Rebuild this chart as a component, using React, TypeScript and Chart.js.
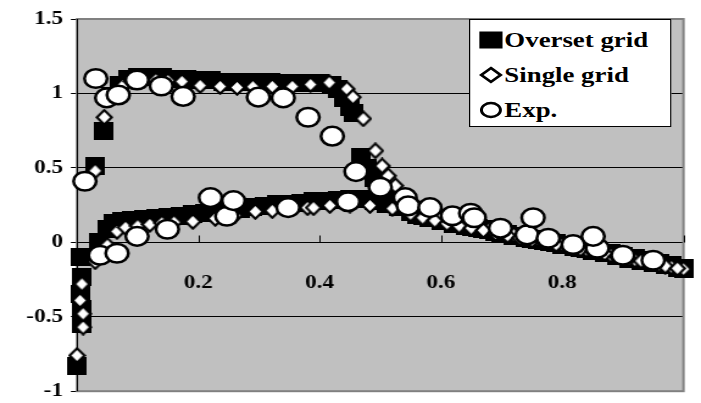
import React, { useEffect, useRef } from "react";
import { Chart, registerables } from "chart.js";

Chart.register(...registerables);

// The reference is horizontally stretched; the canvas is drawn narrower and scaled by CSS.
const PAGE_W = 701;
const PAGE_H = 403;
const CANVAS_W = 575;
const S = PAGE_W / CANVAS_W;

const xTickValues = [0, 0.2, 0.4, 0.6, 0.8, 1.0];
const yTickValues = [-1, -0.5, 0, 0.5, 1, 1.5];
const legendLabels = ["Overset grid", "Single grid", "Exp."];

const oversetUpperX = [0.03, 0.043, 0.055, 0.07, 0.085, 0.1, 0.12, 0.14, 0.16, 0.18, 0.2, 0.22, 0.24, 0.26, 0.28, 0.3, 0.32, 0.34, 0.36, 0.38, 0.4, 0.42, 0.43, 0.44, 0.45, 0.455, 0.468, 0.478, 0.49, 0.5, 0.51, 0.52, 0.535, 0.55, 0.57, 0.59, 0.61, 0.63, 0.65, 0.67, 0.69, 0.71, 0.73, 0.75, 0.77, 0.79, 0.81, 0.83, 0.85, 0.87, 0.89, 0.91, 0.93, 0.95, 0.97, 0.99, 1.0];
const oversetUpperY = [0.51, 0.75, 0.98, 1.06, 1.1, 1.11, 1.11, 1.11, 1.1, 1.1, 1.09, 1.09, 1.08, 1.08, 1.08, 1.075, 1.075, 1.07, 1.07, 1.07, 1.07, 1.06, 1.03, 0.97, 0.91, 0.87, 0.57, 0.5, 0.43, 0.38, 0.33, 0.3, 0.26, 0.22, 0.18, 0.16, 0.145, 0.125, 0.105, 0.09, 0.07, 0.055, 0.04, 0.025, 0.01, -0.005, -0.02, -0.04, -0.055, -0.075, -0.09, -0.11, -0.125, -0.14, -0.155, -0.17, -0.18];
const oversetLowerX = [0.0, 0.008, 0.008, 0.005, 0.007, 0.005, 0.035, 0.05, 0.06, 0.075, 0.09, 0.11, 0.13, 0.15, 0.17, 0.19, 0.21, 0.23, 0.25, 0.27, 0.29, 0.31, 0.33, 0.35, 0.37, 0.39, 0.41, 0.43, 0.45, 0.47, 0.49, 0.51, 0.53, 0.55, 0.56, 0.58, 0.6, 0.62, 0.64, 0.66, 0.68, 0.7, 0.72, 0.74, 0.76, 0.78, 0.8, 0.82, 0.84, 0.86, 0.88, 0.9, 0.92, 0.94, 0.96, 0.98, 1.0];
const oversetLowerY = [-0.83, -0.55, -0.45, -0.35, -0.23, -0.1, 0.0, 0.09, 0.13, 0.145, 0.15, 0.155, 0.165, 0.17, 0.18, 0.19, 0.2, 0.21, 0.215, 0.225, 0.235, 0.245, 0.255, 0.26, 0.265, 0.275, 0.28, 0.285, 0.29, 0.29, 0.28, 0.26, 0.235, 0.205, 0.185, 0.16, 0.14, 0.125, 0.11, 0.095, 0.08, 0.06, 0.045, 0.03, 0.015, 0.0, -0.015, -0.03, -0.045, -0.06, -0.075, -0.09, -0.105, -0.12, -0.14, -0.155, -0.17];

const singleUpperX = [0.03, 0.045, 0.06, 0.075, 0.09, 0.11, 0.13, 0.15, 0.173, 0.203, 0.236, 0.264, 0.29, 0.322, 0.355, 0.385, 0.416, 0.445, 0.455, 0.472, 0.492, 0.503, 0.513, 0.525, 0.54, 0.56, 0.58, 0.6, 0.62, 0.64, 0.66, 0.68, 0.7, 0.72, 0.74, 0.76, 0.78, 0.8, 0.82, 0.84, 0.86, 0.88, 0.9, 0.92, 0.94, 0.96, 0.98, 1.0];
const singleUpperY = [0.48, 0.84, 0.98, 1.05, 1.08, 1.09, 1.09, 1.085, 1.08, 1.053, 1.047, 1.04, 1.045, 1.047, 1.047, 1.06, 1.073, 1.03, 0.975, 0.83, 0.615, 0.513, 0.447, 0.38, 0.3, 0.24, 0.2, 0.17, 0.15, 0.13, 0.11, 0.09, 0.07, 0.05, 0.035, 0.02, 0.0, -0.015, -0.03, -0.05, -0.065, -0.085, -0.1, -0.12, -0.135, -0.15, -0.165, -0.18];
const singleLowerX = [0.0, 0.01, 0.01, 0.005, 0.008, 0.03, 0.05, 0.066, 0.08, 0.1, 0.12, 0.14, 0.16, 0.191, 0.228, 0.26, 0.294, 0.322, 0.35, 0.38, 0.39, 0.417, 0.45, 0.483, 0.52, 0.55, 0.57, 0.59, 0.61, 0.63, 0.65, 0.67, 0.69, 0.71, 0.73, 0.75, 0.77, 0.79, 0.81, 0.83, 0.85, 0.87, 0.89, 0.91, 0.93, 0.95, 0.97, 0.99];
const singleLowerY = [-0.76, -0.57, -0.48, -0.39, -0.28, -0.13, -0.02, 0.073, 0.1, 0.11, 0.12, 0.13, 0.135, 0.14, 0.16, 0.18, 0.207, 0.213, 0.22, 0.233, 0.233, 0.247, 0.25, 0.247, 0.227, 0.19, 0.165, 0.145, 0.125, 0.11, 0.095, 0.08, 0.06, 0.045, 0.03, 0.015, 0.0, -0.015, -0.03, -0.045, -0.06, -0.075, -0.095, -0.11, -0.125, -0.14, -0.16, -0.175];

const expX = [0.013, 0.031, 0.049, 0.068, 0.099, 0.139, 0.175, 0.299, 0.34, 0.381, 0.421, 0.46, 0.5, 0.541, 0.546, 0.582, 0.619, 0.649, 0.698, 0.742, 0.777, 0.818, 0.858, 0.9, 0.95, 0.038, 0.066, 0.099, 0.149, 0.22, 0.247, 0.258, 0.348, 0.447, 0.655, 0.752, 0.851];
const expY = [0.41, 1.1, 0.97, 0.99, 1.09, 1.05, 0.98, 0.975, 0.97, 0.84, 0.713, 0.475, 0.37, 0.3, 0.245, 0.233, 0.178, 0.195, 0.095, 0.05, 0.027, -0.015, -0.04, -0.087, -0.12, -0.087, -0.073, 0.04, 0.088, 0.3, 0.175, 0.28, 0.233, 0.273, 0.165, 0.165, 0.04];

const pts = (xs: number[], ys: number[]) => xs.map((x, i) => ({ x, y: ys[i] }));

const FONT = "'Liberation Serif', 'Times New Roman', serif";

function makeSquare(w: number, h: number) {
  const c = document.createElement("canvas");
  c.width = w;
  c.height = h;
  const g = c.getContext("2d")!;
  g.fillStyle = "#000";
  g.fillRect(0, 0, w, h);
  return c;
}

function makeDiamond(w: number, h: number, lw: number) {
  const c = document.createElement("canvas");
  c.width = w;
  c.height = h;
  const g = c.getContext("2d")!;
  const m = lw / 2 + 0.3;
  g.beginPath();
  g.moveTo(w / 2, m);
  g.lineTo(w - m, h / 2);
  g.lineTo(w / 2, h - m);
  g.lineTo(m, h / 2);
  g.closePath();
  g.fillStyle = "#fff";
  g.fill();
  g.lineWidth = lw;
  g.strokeStyle = "#000";
  g.stroke();
  return c;
}

const framePlugin = {
  id: "frame",
  beforeDraw(chart: any) {
    const { ctx, chartArea } = chart;
    const { left, top, right, bottom } = chartArea;
    ctx.save();
    ctx.fillStyle = "#c0c0c0";
    ctx.fillRect(left, top, right - left, bottom - top);
    ctx.restore();
  },
  beforeDatasetsDraw(chart: any) {
    const { ctx, chartArea, scales } = chart;
    const { left, top, right, bottom } = chartArea;
    ctx.save();
    ctx.strokeStyle = "#808080";
    ctx.lineWidth = 2;
    ctx.strokeRect(left, top, right - left, bottom - top);
    ctx.strokeStyle = "#000";
    ctx.lineWidth = 1;
    ctx.beginPath();
    ctx.moveTo(Math.round(left) + 0.5, top);
    ctx.lineTo(Math.round(left) + 0.5, bottom);
    const y0 = Math.round(scales.y.getPixelForValue(0)) + 0.5;
    for (const v of xTickValues) {
      const px = Math.round(scales.x.getPixelForValue(v)) + 0.5;
      ctx.moveTo(px, y0);
      ctx.lineTo(px, y0 - 7);
    }
    ctx.stroke();
    ctx.restore();
  },
};

export default function App() {
  const ref = useRef<HTMLCanvasElement | null>(null);

  useEffect(() => {
    if (!ref.current) return;
    const squareImg = makeSquare(16, 18);
    const diamondImg = makeDiamond(15, 17, 2.2);
    const chart = new Chart(ref.current, {
      type: "scatter",
      data: {
        datasets: [
          {
            label: legendLabels[2],
            data: pts(expX, expY),
            pointStyle: "circle",
            pointRadius: 9.3,
            pointBorderWidth: 2.5,
            pointBackgroundColor: "#ffffff",
            pointBorderColor: "#000000",
            order: 1,
            clip: false as any,
          },
          {
            label: legendLabels[1],
            data: [...pts(singleUpperX, singleUpperY), ...pts(singleLowerX, singleLowerY)],
            pointStyle: diamondImg as any,
            pointRadius: 8,
            order: 2,
            clip: false as any,
          },
          {
            label: legendLabels[0],
            data: [...pts(oversetUpperX, oversetUpperY), ...pts(oversetLowerX, oversetLowerY)],
            pointStyle: squareImg as any,
            pointRadius: 9,
            order: 3,
            clip: false as any,
          },
        ],
      },
      options: {
        responsive: false,
        maintainAspectRatio: false,
        animation: false,
        devicePixelRatio: 1,
        layout: { padding: { left: 0, right: CANVAS_W - 683.5 / S, top: 19, bottom: 10 } },
        plugins: { legend: { display: false }, tooltip: { enabled: false } },
        scales: {
          x: {
            type: "linear",
            min: 0,
            max: 1,
            position: { y: 0 } as any,
            afterBuildTicks: (scale: any) => {
              scale.ticks = xTickValues.map((v) => ({ value: v }));
            },
            afterFit: (scale: any) => {
              scale.height = 0;
              scale.paddingLeft = 0;
              scale.paddingRight = 0;
            },
            ticks: {
              autoSkip: false,
              maxRotation: 0,
              padding: 29,
              color: "#000",
              font: { family: FONT, size: 19, weight: "bold" },
              callback: (v: any) => {
                const n = Number(v);
                return n <= 0.001 || n >= 0.999 ? "" : n.toFixed(1);
              },
            },
            grid: { drawOnChartArea: false, drawTicks: false },
            border: { display: true, color: "#000", width: 1 },
          },
          y: {
            type: "linear",
            min: -1,
            max: 1.5,
            afterBuildTicks: (scale: any) => {
              scale.ticks = yTickValues.map((v) => ({ value: v }));
            },
            afterFit: (scale: any) => {
              scale.width = 77 / S;
              scale.paddingTop = 0;
              scale.paddingBottom = 0;
            },
            ticks: {
              padding: 6.5,
              color: "#000",
              font: { family: FONT, size: 19, weight: "bold" },
              callback: (v: any) => String(Number(v)),
            },
            grid: { color: "#000", lineWidth: 1, tickLength: 5, tickColor: "#000" },
            border: { display: true, color: "#000", width: 1 },
          },
        },
      },
      plugins: [framePlugin],
    });
    return () => chart.destroy();
  }, []);

  const rowH = 26;
  const rows = [20, 55, 90];
  const marker = (i: number) => {
    if (i === 0) {
      return (
        <svg width="20" height="18" style={{ position: "absolute", left: 7, top: rows[i] - 9 }}>
          <rect x="0.5" y="0.5" width="19" height="17" fill="#000" />
        </svg>
      );
    }
    if (i === 1) {
      return (
        <svg width="20" height="18" style={{ position: "absolute", left: 7, top: rows[i] - 9 }}>
          <polygon points="10,2 18,9 10,16 2,9" fill="#fff" stroke="#000" strokeWidth="2.4" />
        </svg>
      );
    }
    return (
      <svg width="20" height="18" style={{ position: "absolute", left: 7, top: rows[i] - 9 }}>
        <ellipse cx="10" cy="9" rx="7.8" ry="7" fill="#fff" stroke="#000" strokeWidth="2.4" />
      </svg>
    );
  };

  return (
    <div
      style={{
        position: "fixed",
        left: 0,
        top: 0,
        width: PAGE_W,
        height: PAGE_H,
        background: "#fff",
        overflow: "hidden",
      }}
    >
      <canvas
        ref={ref}
        width={CANVAS_W}
        height={PAGE_H}
        style={{ width: PAGE_W + "px", height: PAGE_H + "px", display: "block" }}
      />
      <div
        style={{
          position: "absolute",
          left: 469,
          top: 19,
          width: 202 / S,
          height: 108,
          background: "#fff",
          border: "1px solid #000",
          boxSizing: "border-box",
          transform: `scaleX(${S})`,
          transformOrigin: "0 0",
        }}
      >
        {legendLabels.map((label, i) => (
          <React.Fragment key={label}>
            {marker(i)}
            <div
              style={{
                position: "absolute",
                left: 28,
                top: rows[i] - rowH / 2,
                height: rowH,
                lineHeight: rowH + "px",
                fontFamily: FONT,
                fontWeight: "bold",
                fontSize: 22,
                color: "#000",
                whiteSpace: "nowrap",
              }}
            >
              {label}
            </div>
          </React.Fragment>
        ))}
      </div>
    </div>
  );
}
